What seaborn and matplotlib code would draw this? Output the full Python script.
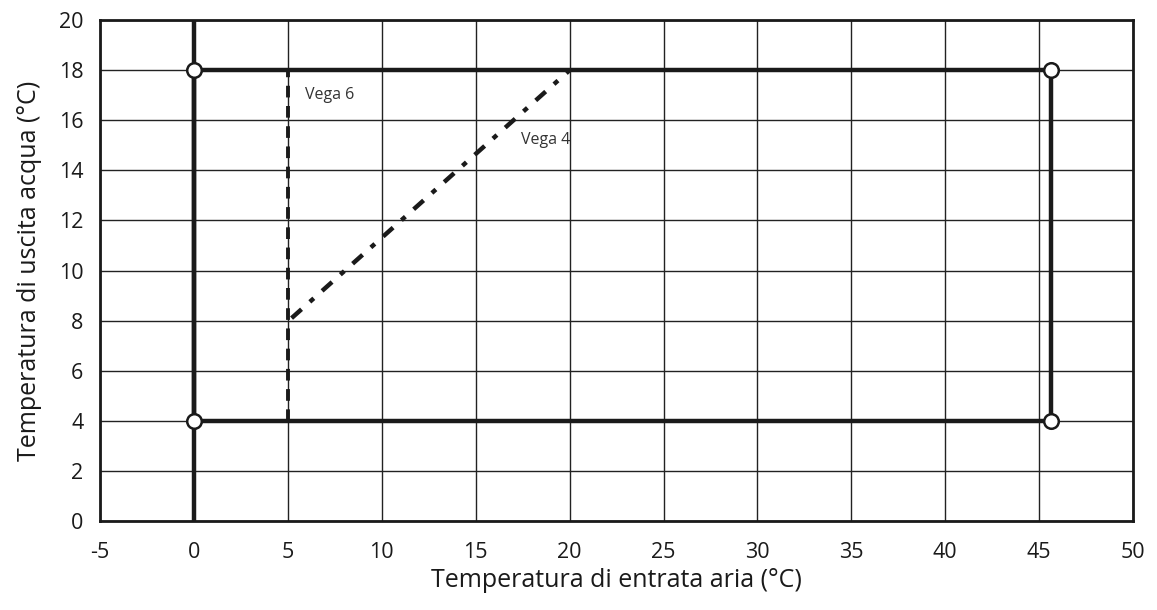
import matplotlib
matplotlib.use("Agg")
import matplotlib.pyplot as plt
import seaborn as sns
import pandas as pd

# Data
env_x = [0, 45.6, 45.6, 0, 0]
env_y = [4, 4, 18, 18, 4]
axis0_x = [0, 0]
axis0_y = [0, 20]
vega6_x = [5, 5]
vega6_y = [4, 18]
vega4_x = [5.2, 20]
vega4_y = [8.1, 18]
corner_x = [0, 45.6, 45.6, 0]
corner_y = [4, 4, 18, 18]
xticks = [-5, 0, 5, 10, 15, 20, 25, 30, 35, 40, 45, 50]
yticks = [0, 2, 4, 6, 8, 10, 12, 14, 16, 18, 20]

sns.set_style("white")
plt.rcParams['font.family'] = ['Open Sans', 'DejaVu Sans']

fig = plt.figure(figsize=(11.57, 6.10), dpi=100)
ax = fig.add_axes([0.0864, 0.146, 0.893, 0.821])

for xv in xticks:
    ax.axvline(xv, color='#222222', lw=1.0, zorder=1)
for yv in yticks:
    ax.axhline(yv, color='#222222', lw=1.0, zorder=1)

common = dict(ax=ax, color='#1a1a1a', sort=False, estimator=None, zorder=3)
sns.lineplot(x=axis0_x, y=axis0_y, lw=3.2, **common)
sns.lineplot(x=env_x, y=env_y, lw=3.2, **common)
sns.lineplot(x=vega6_x, y=vega6_y, lw=2.8, linestyle=(0, (3, 2.2)), **common)
sns.lineplot(x=vega4_x, y=vega4_y, lw=3.2, linestyle=(0, (3, 2.5, 1.2, 2.5)), **common)
sns.scatterplot(x=corner_x, y=corner_y, ax=ax, s=110, color='white',
                edgecolor='#1a1a1a', linewidth=1.8, zorder=5)

ax.text(5.9, 17.0, "Vega 6", fontsize=11.5, color='#333333', va='center', ha='left')
ax.text(17.4, 15.2, "Vega 4", fontsize=11.5, color='#333333', va='center', ha='left')

ax.set_xlim(-5, 50)
ax.set_ylim(0, 20)
ax.set_xticks(xticks)
ax.set_yticks(yticks)
ax.set_xticklabels([str(v) for v in xticks])
ax.set_yticklabels([str(v) for v in yticks])
ax.tick_params(axis='both', length=0, labelsize=15.5, colors='#1a1a1a')
ax.tick_params(axis='x', pad=15)
ax.tick_params(axis='y', pad=12)
ax.set_xlabel("Temperatura di entrata aria (°C)", fontsize=18, color='#1a1a1a', labelpad=4)
ax.set_ylabel("Temperatura di uscita acqua (°C)", fontsize=18, color='#1a1a1a', labelpad=12)
for sp in ax.spines.values():
    sp.set_visible(True)
    sp.set_color('#1a1a1a')
    sp.set_linewidth(2.0)

fig.savefig("out.png", dpi=100)
